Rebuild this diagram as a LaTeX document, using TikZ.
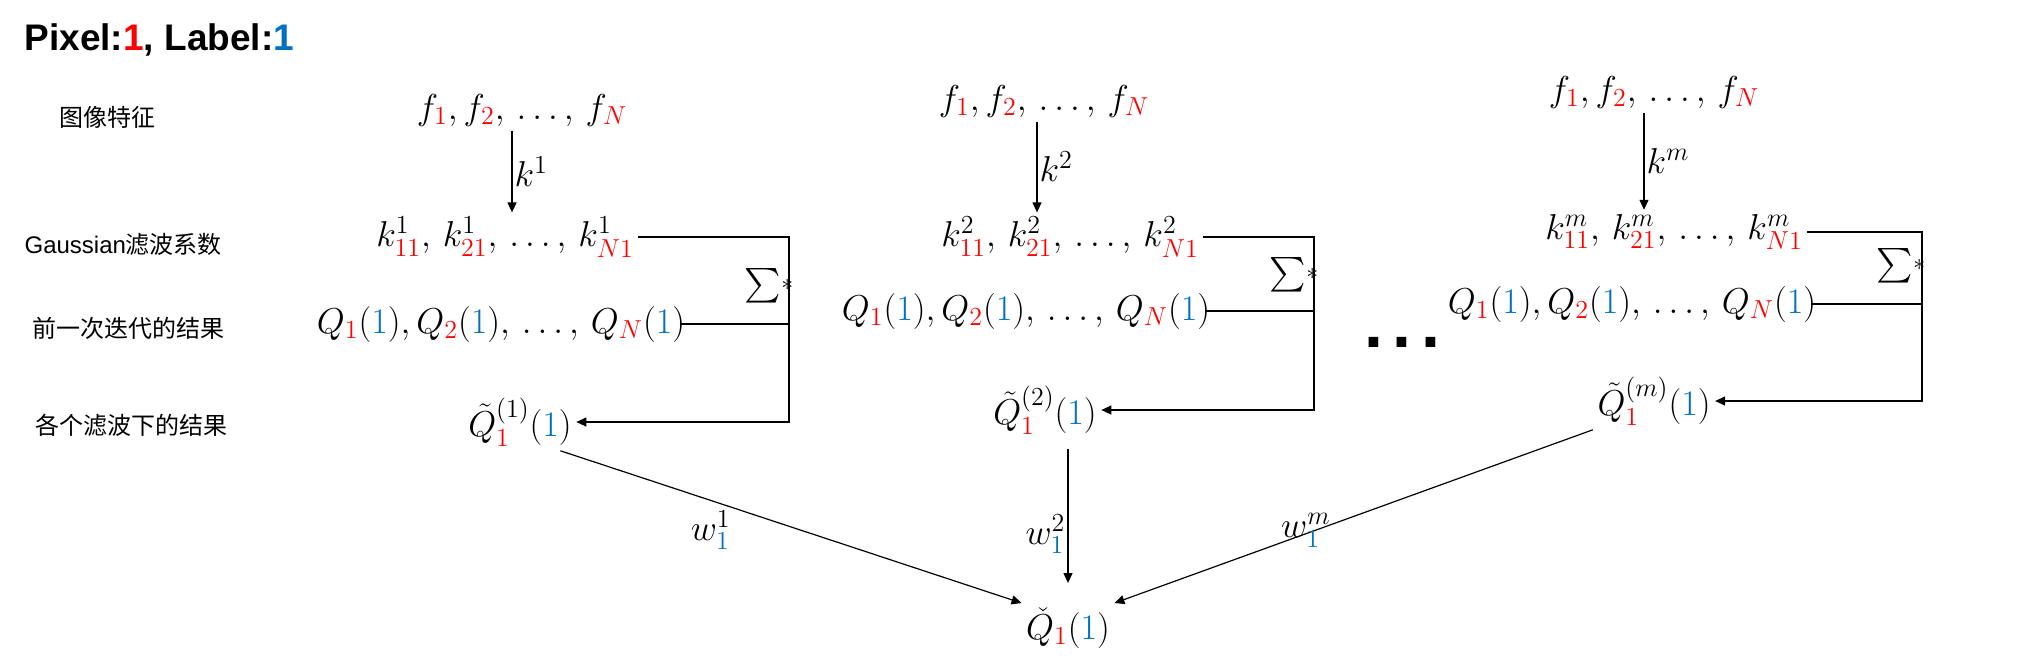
\documentclass[tikz,border=0pt]{standalone}
\usepackage{fix-cm}
\usepackage{amsmath}
\usepackage{fontspec}
\setsansfont{Liberation Sans}
\newfontfamily\cjk{Noto Sans CJK SC}
\DeclareMathSizes{18}{18}{13}{10}
\usetikzlibrary{arrows.meta}
\definecolor{pxred}{RGB}{255,0,0}
\definecolor{lbblue}{RGB}{0,112,192}
\newcommand{\px}[1]{{\color{pxred}#1}}
\newcommand{\lb}[1]{{\color{lbblue}#1}}
\newcommand{\frow}{$f_{\px{1}},f_{\px{2}},\,\dots,\,f_{\px{N}}$}
\newcommand{\krow}[1]{$k^{#1}_{\px{11}},\,k^{#1}_{\px{21}},\,\dots,\,k^{#1}_{\px{N1}}$}
\newcommand{\qrow}{$Q_{\px{1}}(\lb{1}),Q_{\px{2}}(\lb{1}),\,\dots,\,Q_{\px{N}}(\lb{1})$}
\newcommand{\qtil}[1]{$\tilde{Q}^{(#1)}_{\px{1}}(\lb{1})$}
\newcommand{\sumstar}{${\textstyle\sum}\raisebox{2pt}{$\scriptstyle\ast$}$}
\tikzset{every picture/.style={line width=0.6pt}}
\tikzset{
  formula/.style={inner sep=2pt, font=\fontsize{18}{21}\selectfont},
  edgelabel/.style={inner sep=1pt, font=\fontsize{18}{21}\selectfont},
  sumsign/.style={inner sep=0pt, font=\fontsize{17}{20}\selectfont},
  rowlabel/.style={anchor=west, inner sep=0pt, font=\fontsize{12}{14}\selectfont\cjk},
  arr/.style={-{Triangle[length=5pt,width=4.5pt]}},
}

\begin{document}
\begin{tikzpicture}[x=0.5pt,y=0.5pt,yscale=-1,xscale=1]
\useasboundingbox (0,0) rectangle (2027,666);
\node (title) at (24,50) [anchor=base west, inner sep=0pt, font=\fontsize{18.5}{22}\selectfont\sffamily\bfseries] {Pixel:\px{1}, Label:\lb{1}};
% row names
\node (lbf) at (59,117) [rowlabel] {图像特征};
\node (lbk) at (24,244) [rowlabel] {{\sffamily Gaussian}滤波系数};
\node (lbq) at (32,328) [rowlabel] {前一次迭代的结果};
\node (lbt) at (35,425) [rowlabel] {各个滤波下的结果};
% first filter
\node (f1) at (522,110) [formula] {\frow};
\node (k1) at (505,237) [formula] {\krow{1}};
\node (q1) at (501,324) [formula] {\qrow};
\node (t1) at (520,422) [formula] {\qtil{1}};
\node (s1) at (769,286) [sumsign] {\sumstar};
\coordinate (r1) at (789,0);
\draw [arr] ([xshift=-5pt]f1.south) -- node [right, edgelabel] {$k^{1}$} ([xshift=-5pt]f1.south |- k1.north);
\draw [arr] (k1.east) -- (k1.east -| r1) -- (r1 |- t1.east) -- (t1.east);
\draw ([xshift=-5pt]q1.east) -- (q1.east -| r1);
% second filter
\node (f2) at (1044,101) [formula] {\frow};
\node (k2) at (1070,237) [formula] {\krow{2}};
\node (q2) at (1026,311) [formula] {\qrow};
\node (t2) at (1045,410) [formula] {\qtil{2}};
\node (s2) at (1294,275) [sumsign] {\sumstar};
\coordinate (r2) at (1314,0);
\draw [arr] ([xshift=-3.5pt]f2.south) -- node [right, edgelabel] {$k^{2}$} ([xshift=-3.5pt]f2.south |- k2.north);
\draw [arr] (k2.east) -- (k2.east -| r2) -- (r2 |- t2.east) -- (t2.east);
\draw ([xshift=-5pt]q2.east) -- (q2.east -| r2);
% last filter
\node (dots) at (1402,342) [inner sep=0pt, font=\fontsize{34}{40}\selectfont\sffamily\bfseries] {.\kern4.8pt.\kern4.8pt.};
\node (f3) at (1654,92) [formula] {\frow};
\node (k3) at (1674,232) [formula] {\krow{m}};
\node (q3) at (1632,304) [formula] {\qrow};
\node (t3) at (1654,401) [formula] {\qtil{m}};
\node (s3) at (1901,266) [sumsign] {\sumstar};
\coordinate (r3) at (1922,0);
\draw [arr] ([xshift=-5pt]f3.south) -- node [right, edgelabel] {$k^{m}$} ([xshift=-5pt]f3.south |- k3.north);
\draw [arr] (k3.east) -- (k3.east -| r3) -- (r3 |- t3.east) -- (t3.east);
\draw ([xshift=-5pt]q3.east) -- (q3.east -| r3);
% weighted sum
\node (qc) at (1068,628) [formula] {$\check{Q}_{\px{1}}(\lb{1})$};
\draw [arr] ([xshift=-8pt]t1.south east) -- node [pos=0.375, anchor=north east, edgelabel] {$w^{1}_{\lb{1}}$} (qc.north west);
\draw [arr, shorten <=5pt, shorten >=10pt] (qc.north |- t2.south) -- node [pos=0.58, left, edgelabel] {$w^{2}_{\lb{1}}$} (qc.north);
\draw [arr] (t3.south west) -- node [pos=0.6, anchor=south, edgelabel, inner sep=0pt, yshift=-7pt] {$w^{m}_{\lb{1}}$} (qc.north east);
\end{tikzpicture}
\end{document}
